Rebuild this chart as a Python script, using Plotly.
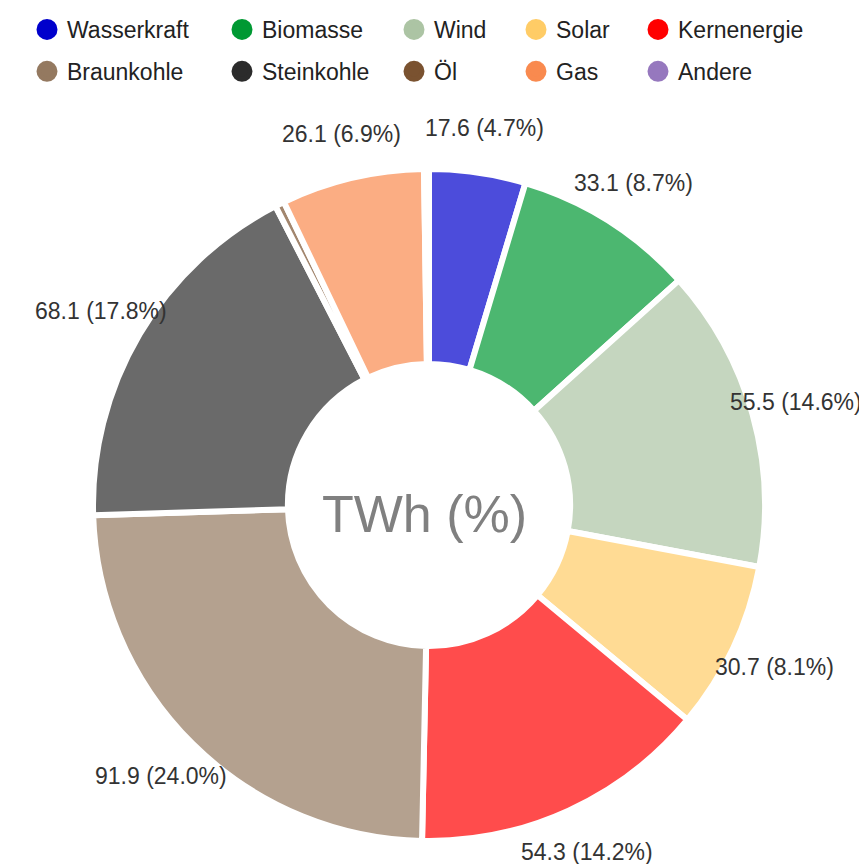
import math
import plotly.graph_objects as go

# ---- data ----
categories = ["Wasserkraft", "Biomasse", "Wind", "Solar", "Kernenergie",
              "Braunkohle", "Steinkohle", "Öl", "Gas", "Andere"]
values_twh = [17.6, 33.1, 55.5, 30.7, 54.3, 91.9, 68.1, 1.7, 26.1, 0.9]
percent_labels = ["4.7", "8.7", "14.6", "8.1", "14.2", "24.0", "17.8", None, "6.9", None]
base_colors = [(0, 0, 204), (0, 153, 51), (172, 196, 164), (255, 204, 102), (255, 0, 0),
               (148, 121, 96), (43, 43, 43), (122, 82, 48), (249, 138, 79), (150, 120, 190)]
center_text = "TWh (%)"

FONT = "Liberation Sans, Arial, sans-serif"

slice_colors = [f"rgba({r},{g},{b},0.7)" for r, g, b in base_colors]
legend_colors = [f"rgb({r},{g},{b})" for r, g, b in base_colors]

W, H = 867, 864
cx, cy, R_px = 421, 497, 336
domain = dict(x=[(cx - R_px) / W, (cx + R_px) / W],
              y=[1 - (cy + R_px) / H, 1 - (cy - R_px) / H])

fig = go.Figure()
fig.add_trace(go.Pie(
    labels=categories,
    values=values_twh,
    textinfo="none",
    sort=False,
    direction="clockwise",
    rotation=0,
    hole=0.42,
    automargin=False,
    marker=dict(colors=slice_colors, line=dict(color="white", width=6)),
    showlegend=False,
    hoverinfo="label+value",
    domain=domain,
))

# legend entries as circles, one small vertical legend per column
col_text_x = [67, 262, 434, 556, 678]
for i, (name, col) in enumerate(zip(categories, legend_colors)):
    k = i % 5
    lname = "legend" if k == 0 else f"legend{k + 1}"
    fig.add_trace(go.Scatter(
        x=[None], y=[None], mode="markers", name=name,
        marker=dict(size=16, color=col, line=dict(color=col, width=5)),
        legend=lname, legendgroup=name, showlegend=True,
    ))

# slice labels at each slice's mid-angle, on an invisible axis system
# whose unit is the ring radius and whose origin is the ring centre
LABEL_R = 1.135
total = sum(values_twh)
annotations = []
cum = 0.0
for v, p in zip(values_twh, percent_labels):
    mid = cum + v / 2
    cum += v
    if p is None:
        continue
    ang = 2 * math.pi * mid / total
    annotations.append(dict(
        x=LABEL_R * math.sin(ang), y=LABEL_R * math.cos(ang),
        xref="x", yref="y", text=f"{v} ({p}%)", showarrow=False,
        xanchor="center", yanchor="middle", borderpad=0,
        font=dict(family=FONT, size=23, color="#333333"),
    ))
annotations.append(dict(
    x=0, y=0, xref="x", yref="y", text=center_text, showarrow=False,
    xanchor="center", yanchor="middle", xshift=-5, yshift=-9,
    font=dict(family=FONT, size=52, color="#808080"),
))

layout_legends = {}
for k in range(5):
    lname = "legend" if k == 0 else f"legend{k + 1}"
    layout_legends[lname] = dict(
        x=(col_text_x[k] - 48) / W, xanchor="left",
        y=1.0, yanchor="top",
        orientation="v", tracegroupgap=9,
        font=dict(family=FONT, size=23, color="#222222"),
        bgcolor="rgba(0,0,0,0)", itemclick=False, itemdoubleclick=False,
    )

fig.update_layout(
    width=W, height=H,
    margin=dict(l=0, r=0, t=0, b=0, autoexpand=False),
    paper_bgcolor="white", plot_bgcolor="rgba(0,0,0,0)",
    xaxis=dict(visible=False, domain=[0, 1], range=[-cx / R_px, (W - cx) / R_px], fixedrange=True),
    yaxis=dict(visible=False, domain=[0, 1], range=[-(H - cy) / R_px, cy / R_px], fixedrange=True),
    annotations=annotations,
    **layout_legends,
)

fig.write_html("out.html")
